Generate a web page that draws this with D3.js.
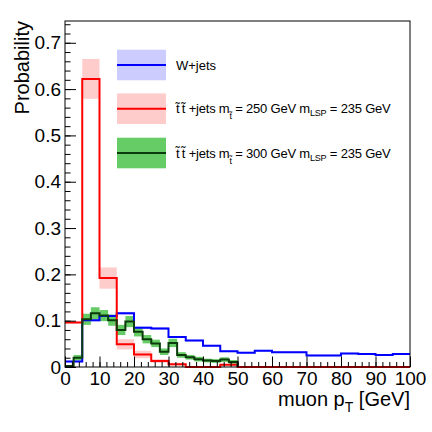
<!DOCTYPE html>
<html>
<head>
<meta charset="utf-8">
<script src="https://cdn.jsdelivr.net/npm/d3@7"></script>
<style>
  html, body { margin: 0; padding: 0; background: #fff; }
  svg { display: block; font-family: "Liberation Sans", Arial, Helvetica, sans-serif; }
</style>
</head>
<body>
<svg id="chart" width="432" height="432"></svg>
<script>
// ---------------- data ----------------
// W+jets, 5 GeV bins from 0 to 100
const blueEdges = [0,5,10,15,20,25,30,35,40,45,50,55,60,65,70,75,80,85,90,95,100];
const blueVals  = [0.012,0.101,0.110,0.116,0.085,0.083,0.065,0.057,0.046,0.034,0.031,0.035,0.032,0.032,0.025,0.025,0.029,0.028,0.026,0.028];
const blueErr   = [0.002,0.003,0.003,0.003,0.003,0.003,0.002,0.002,0.002,0.002,0.002,0.002,0.002,0.002,0.002,0.002,0.002,0.002,0.002,0.002];

// stop 250 / LSP 235, 5 GeV bins from 0 to 100
const redEdges = [0,5,10,15,20,25,30,35,40,45,50,55,60,65,70,75,80,85,90,95,100];
const redVals  = [0.096,0.622,0.192,0.049,0.027,0.013,0.006,0,0,0.005,0,0,0,0,0,0,0,0,0,0];
const redErr   = [0.002,0.043,0.023,0.011,0.008,0.004,0.003,0,0,0.002,0,0,0,0,0,0,0,0,0,0];

// stop 300 / LSP 235, 2.5 GeV bins from 0 to 50
const greenEdges = [0,2.5,5,7.5,10,12.5,15,17.5,20,22.5,25,27.5,30,32.5,35,37.5,40,42.5,45,47.5,50];
const greenVals  = [0.002,0.020,0.103,0.116,0.111,0.101,0.080,0.098,0.076,0.060,0.051,0.033,0.052,0.026,0.021,0.017,0.014,0.013,0.016,0.011];
const greenErr   = [0.002,0.006,0.012,0.013,0.012,0.012,0.011,0.012,0.010,0.009,0.008,0.007,0.009,0.006,0.005,0.005,0.004,0.004,0.005,0.004];

const xMajorTicks = [0,10,20,30,40,50,60,70,80,90,100];
const xTickLabels = ["0","10","20","30","40","50","60","70","80","90","100"];
const yMajorTicks = [0,0.1,0.2,0.3,0.4,0.5,0.6,0.7];
const yTickLabels = ["0","0.1","0.2","0.3","0.4","0.5","0.6","0.7"];

const legendLabels = ["W+jets", "stop250", "stop300"];

// ---------------- layout ----------------
const L = 65, R = 410, T = 21, B = 367;
const svg = d3.select("#chart");
const x = d3.scaleLinear().domain([0, 100]).range([L, R]);
const y = d3.scaleLinear().domain([0, 0.747]).range([B, T]);

const colors = {
  blueLine: "#0000ff", blueBand: "#ccccff",
  redLine: "#ff0000", redBand: "#ffcccc",
  greenLine: "#0b3b0b", greenBand: "#66cc66"
};

// ---------------- bands ----------------
function band(edges, vals, errs, fill) {
  const data = vals.map((v, i) => ({x0: edges[i], x1: edges[i+1], v, e: errs[i]}))
                   .filter(d => d.e > 0);
  svg.append("g").selectAll("rect").data(data).join("rect")
    .attr("x", d => x(d.x0))
    .attr("width", d => x(d.x1) - x(d.x0))
    .attr("y", d => y(d.v + d.e))
    .attr("height", d => y(d.v - d.e) - y(d.v + d.e))
    .attr("fill", fill);
}
function stepLine(edges, vals, color, closeEnd) {
  let p = "M" + x(edges[0]) + "," + y(vals[0]);
  for (let i = 0; i < vals.length; i++) {
    if (i > 0) p += "V" + y(vals[i]);
    p += "H" + x(edges[i+1]);
  }
  if (closeEnd) p += "V" + y(0);
  svg.append("path").attr("d", p).attr("fill", "none")
    .attr("stroke", color).attr("stroke-width", 2);
}

band(blueEdges, blueVals, blueErr, colors.blueBand);
band(redEdges, redVals, redErr, colors.redBand);
band(greenEdges, greenVals, greenErr, colors.greenBand);
stepLine(blueEdges, blueVals, colors.blueLine, false);
stepLine(redEdges, redVals, colors.redLine, false);
stepLine(greenEdges, greenVals, colors.greenLine, true);

// ---------------- axes ----------------
const yAxis = d3.axisLeft(y).tickValues(yMajorTicks)
  .tickFormat((d, i) => yTickLabels[i]).tickSize(-11).tickPadding(4);
const yMinor = d3.axisLeft(y).tickValues(d3.range(0, 0.741, 0.02)).tickFormat("").tickSize(-5.5);
const xAxis = d3.axisBottom(x).tickValues(xMajorTicks)
  .tickFormat((d, i) => xTickLabels[i]).tickSize(-10.5).tickPadding(5);
const xMinor = d3.axisBottom(x).tickValues(d3.range(0, 100.1, 2)).tickFormat("").tickSize(-5);

function styleAxis(g, fs) {
  g.select(".domain").remove();
  g.selectAll("line").attr("stroke", "#000").attr("stroke-width", 1);
  g.selectAll("text").attr("font-size", fs).attr("fill", "#000")
    .attr("font-family", "'Liberation Sans', Arial, sans-serif");
}
function dropText(g) { g.selectAll("text").remove(); }
svg.append("g").attr("transform", `translate(${L},0)`).call(yMinor).call(g => { styleAxis(g, 19); dropText(g); });
svg.append("g").attr("transform", `translate(${L},0)`).call(yAxis).call(g => styleAxis(g, 19));
svg.append("g").attr("transform", `translate(0,${B})`).call(xMinor).call(g => { styleAxis(g, 19); dropText(g); });
svg.append("g").attr("transform", `translate(0,${B})`).call(xAxis).call(g => styleAxis(g, 19));

// frame
svg.append("rect").attr("x", L).attr("y", T).attr("width", R - L).attr("height", B - T)
  .attr("fill", "none").attr("stroke", "#000").attr("stroke-width", 1);

// axis titles
svg.append("text").attr("transform", `translate(29,${T}) rotate(-90)`)
  .attr("text-anchor", "end").attr("font-size", 20).text("Probability");
const xt = svg.append("text").attr("x", R).attr("y", 406).attr("text-anchor", "end").attr("font-size", 20);
xt.append("tspan").text("muon p");
xt.append("tspan").attr("dy", 6).attr("font-size", 14).text("T");
xt.append("tspan").attr("dy", -6).text(" [GeV]");

// ---------------- legend ----------------
const legRows = [
  {band: colors.blueBand, line: colors.blueLine, cy: 65},
  {band: colors.redBand, line: colors.redLine, cy: 108.7},
  {band: colors.greenBand, line: colors.greenLine, cy: 153}
];
const lg = svg.append("g");
legRows.forEach((r, i) => {
  lg.append("rect").attr("x", 117).attr("y", r.cy - 15.3).attr("width", 49).attr("height", 30.6).attr("fill", r.band);
  lg.append("line").attr("x1", 117).attr("x2", 166).attr("y1", r.cy).attr("y2", r.cy)
    .attr("stroke", r.line).attr("stroke-width", 2);
});
const fs = 13;
lg.append("text").attr("x", 176).attr("y", 65 + 4.7).attr("font-size", fs).text(legendLabels[0]);
function stopLabel(cy, mstop) {
  const t = lg.append("text").attr("x", 176).attr("y", cy + 4.7).attr("font-size", fs)
    .attr("letter-spacing", -0.2);
  t.append("tspan").text("t\u0303\u2009t\u0303 +jets m");
  t.append("tspan").attr("dy", 6).attr("font-size", 9).text("t\u0303");
  t.append("tspan").attr("dy", -6).text(" = " + mstop + " GeV m");
  t.append("tspan").attr("dy", 3).attr("font-size", 9).text("LSP");
  t.append("tspan").attr("dy", -3).text(" = 235 GeV");
}
stopLabel(108.7, 250);
stopLabel(153, 300);
</script>
</body>
</html>
